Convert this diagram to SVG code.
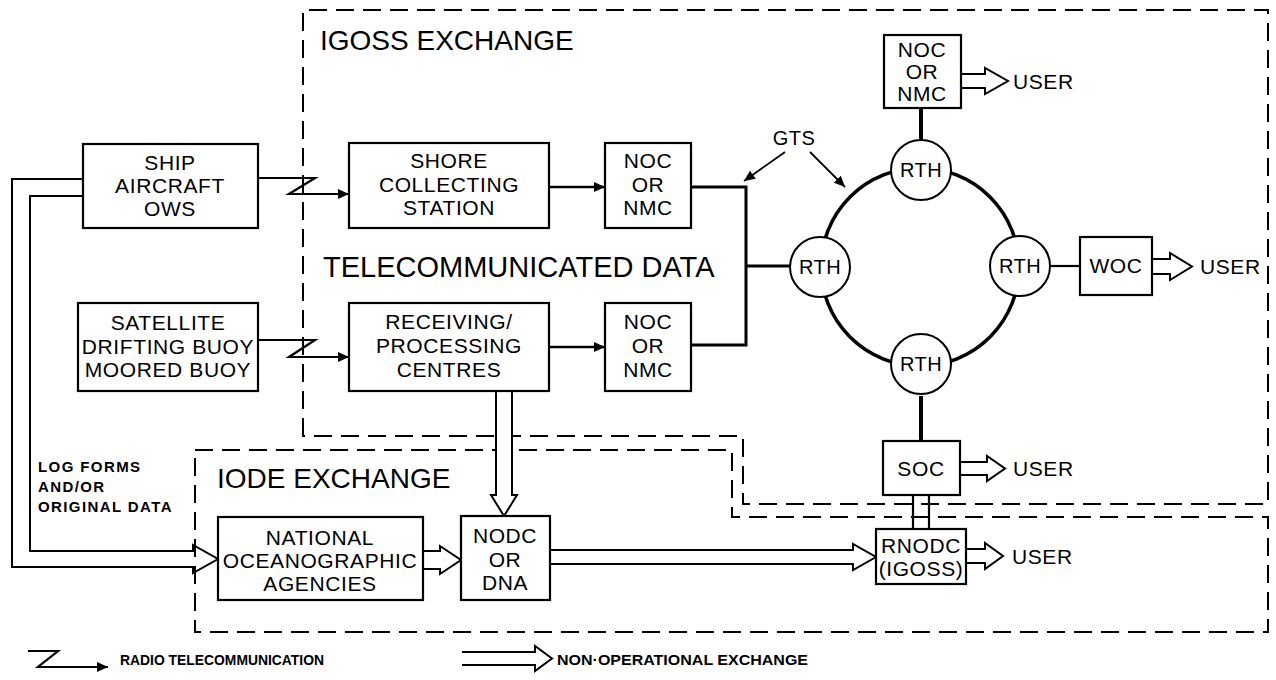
<svg xmlns="http://www.w3.org/2000/svg" width="1276" height="680" viewBox="0 0 1276 680">
<defs>
<style>
.box{fill:#fff;stroke:#000;stroke-width:2.2}
.t{font-family:"Liberation Sans",Arial,sans-serif;font-size:21px;letter-spacing:0.6px;text-anchor:middle;fill:#000}
.r{font-size:20px;letter-spacing:0.5px}
.title{font-family:"Liberation Sans",Arial,sans-serif;font-size:28px;fill:#000}
.small{font-family:"Liberation Sans",Arial,sans-serif;font-size:15px;font-weight:bold;letter-spacing:1.4px;fill:#000}
.leg{font-family:"Liberation Sans",Arial,sans-serif;font-size:14px;font-weight:bold;fill:#000}
.dash{fill:none;stroke:#000;stroke-width:2;stroke-dasharray:18 9}
.ln{fill:none;stroke:#000;stroke-width:2.2}
.thick{fill:none;stroke:#000;stroke-width:3.5}
.hol{fill:#fff;stroke:#000;stroke-width:2;stroke-linejoin:miter}
.holn{fill:none;stroke:#000;stroke-width:2;stroke-linejoin:miter}
.circ{fill:#fff;stroke:#000;stroke-width:2}
</style>
<marker id="ah" markerUnits="userSpaceOnUse" markerWidth="11" markerHeight="10" refX="11" refY="5" orient="auto">
<path d="M0,0 L11,5 L0,10 Z" fill="#000"/>
</marker>
</defs>
<rect width="1276" height="680" fill="#fff"/>

<g id="boundaries">
<path class="dash" d="M303,436 V10 H1268 V504 H743 V436 Z"/>
<path class="dash" d="M195,450 H732 V517 H1268 V632 H195 Z"/>
<text class="title" x="320" y="50">IGOSS EXCHANGE</text>
<text class="title" x="323" y="277" style="font-size:29px">TELECOMMUNICATED DATA</text>
<text class="title" x="217" y="488">IODE EXCHANGE</text>
</g>

<g id="connectors">
<path class="ln" d="M258,178 H315 L289,194 H349" marker-end="url(#ah)"/>
<path class="ln" d="M258,340 H315 L289,357 H349" marker-end="url(#ah)"/>
<path class="ln" d="M549,187 H605" marker-end="url(#ah)" style="stroke-width:2.6"/>
<path class="ln" d="M549,347 H605" marker-end="url(#ah)" style="stroke-width:2.6"/>
<path class="thick" d="M691,187 H746 V345 H691" style="stroke-width:3"/>
<path class="thick" d="M746,266 H790" style="stroke-width:3"/>
<circle cx="920" cy="267" r="99" fill="none" stroke="#000" stroke-width="3.5"/>
<path class="thick" d="M921,108 V140" style="stroke-width:4"/>
<path class="thick" d="M921,396 V441" style="stroke-width:4"/>
<path class="ln" d="M1050,266 H1080"/>
<path class="ln" d="M785,152 L744,181" marker-end="url(#ah)" style="stroke-width:1.8"/>
<path class="ln" d="M810,152 L845,187" marker-end="url(#ah)" style="stroke-width:1.8"/>
<path class="ln" d="M913,495 V529 M929,495 V529"/>
<path class="holn" d="M83,179 H12 V567 H193 V573 L218,559 L193,545 V551 H30 V196 H83"/>
<path class="hol" d="M496,391 V495 H491 L504,516 L517,495 H512 V391"/>
<path class="hol" d="M423,551 H440 V546 L461,560 L440,574 V569 H423"/>
<path class="hol" d="M550,550 H853 V544 L876,557 L853,570 V564 H550"/>
<path class="hol" d="M961,74 H985 V68 L1008,81 L985,94 V88 H961"/>
<path class="hol" d="M1152,259 H1170 V253 L1192,266.5 L1170,280 V274 H1152"/>
<path class="hol" d="M960,462 H987 V456 L1005,468.5 L987,481 V475 H960"/>
<path class="hol" d="M966,549 H985 V543 L1003,556 L985,569 V563 H966"/>
</g>

<g id="ship">
<rect class="box" x="83" y="144" width="175" height="84"/>
<text class="t" x="170" y="170">SHIP</text>
<text class="t" x="170" y="193">AIRCRAFT</text>
<text class="t" x="170" y="216">OWS</text>
</g>
<g id="satellite">
<rect class="box" x="78" y="303" width="180" height="88"/>
<text class="t" x="168" y="330">SATELLITE</text>
<text class="t" x="168" y="354">DRIFTING BUOY</text>
<text class="t" x="168" y="377">MOORED BUOY</text>
</g>
<g id="shore">
<rect class="box" x="349" y="143" width="200" height="85"/>
<text class="t" x="449" y="168">SHORE</text>
<text class="t" x="449" y="192">COLLECTING</text>
<text class="t" x="449" y="215">STATION</text>
</g>
<g id="noc1">
<rect class="box" x="605" y="143" width="86" height="85"/>
<text class="t" x="648" y="168">NOC</text>
<text class="t" x="648" y="192">OR</text>
<text class="t" x="648" y="215">NMC</text>
</g>
<g id="receiving">
<rect class="box" x="349" y="303" width="200" height="88"/>
<text class="t" x="449" y="329">RECEIVING/</text>
<text class="t" x="449" y="353">PROCESSING</text>
<text class="t" x="449" y="377">CENTRES</text>
</g>
<g id="noc2">
<rect class="box" x="605" y="303" width="86" height="88"/>
<text class="t" x="648" y="329">NOC</text>
<text class="t" x="648" y="353">OR</text>
<text class="t" x="648" y="377">NMC</text>
</g>
<g id="gts">
<text class="t r" x="794" y="145">GTS</text>
</g>
<g id="rth-left">
<circle class="circ" cx="820" cy="267" r="30"/>
<text class="t r" x="820" y="274">RTH</text>
</g>
<g id="rth-top">
<circle class="circ" cx="921" cy="170" r="30"/>
<text class="t r" x="921" y="177">RTH</text>
</g>
<g id="rth-right">
<circle class="circ" cx="1020" cy="266" r="30"/>
<text class="t r" x="1020" y="273">RTH</text>
</g>
<g id="rth-bottom">
<circle class="circ" cx="921" cy="364" r="30"/>
<text class="t r" x="921" y="371">RTH</text>
</g>
<g id="noc3">
<rect class="box" x="884" y="35" width="77" height="73"/>
<text class="t" x="922" y="57">NOC</text>
<text class="t" x="922" y="79">OR</text>
<text class="t" x="922" y="101">NMC</text>
<text class="t" x="1013" y="89" style="text-anchor:start">USER</text>
</g>
<g id="woc">
<rect class="box" x="1080" y="237" width="72" height="58"/>
<text class="t" x="1116" y="273">WOC</text>
<text class="t" x="1200" y="274" style="text-anchor:start">USER</text>
</g>
<g id="soc">
<rect class="box" x="883" y="441" width="77" height="54"/>
<text class="t" x="921" y="476">SOC</text>
<text class="t" x="1013" y="476" style="text-anchor:start">USER</text>
</g>
<g id="rnodc">
<rect class="box" x="876" y="529" width="90" height="55"/>
<text class="t" x="921" y="553">RNODC</text>
<text class="t" x="921" y="576">(IGOSS)</text>
<text class="t" x="1012" y="564" style="text-anchor:start">USER</text>
</g>
<g id="national">
<rect class="box" x="218" y="517" width="205" height="83"/>
<text class="t" x="320" y="545">NATIONAL</text>
<text class="t" x="320" y="568">OCEANOGRAPHIC</text>
<text class="t" x="320" y="591">AGENCIES</text>
</g>
<g id="nodc">
<rect class="box" x="461" y="516" width="89" height="84"/>
<text class="t" x="505" y="543">NODC</text>
<text class="t" x="505" y="567">OR</text>
<text class="t" x="505" y="590">DNA</text>
</g>
<g id="logforms">
<text class="small" x="38" y="472">LOG FORMS</text>
<text class="small" x="38" y="492">AND/OR</text>
<text class="small" x="38" y="512">ORIGINAL DATA</text>
</g>
<g id="legend">
<path class="ln" d="M28,651 H58 L38,667 H108" marker-end="url(#ah)"/>
<text class="leg" x="120" y="665" textLength="204" lengthAdjust="spacingAndGlyphs">RADIO TELECOMMUNICATION</text>
<path class="holn" d="M462,652 H535 V646 L552,658.5 L535,671 V665 H462"/>
<text class="leg" x="557" y="665" textLength="251" lengthAdjust="spacingAndGlyphs">NON·OPERATIONAL EXCHANGE</text>
</g>
</svg>
